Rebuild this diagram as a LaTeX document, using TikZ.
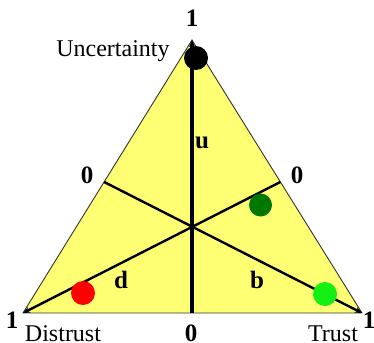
\documentclass[tikz,border=0pt]{standalone}
\usepackage{fontspec}
\setmainfont{Liberation Serif}
\usetikzlibrary{arrows.meta,calc,positioning}
\definecolor{opyellow}{RGB}{255,255,115}
\definecolor{opdkgreen}{RGB}{0,120,0}
\definecolor{oplgreen}{RGB}{20,240,20}
\tikzset{
  axis/.style={line width=2.4pt,-{Stealth[length=7pt,width=6pt]}},
  dot/.style={circle,inner sep=0pt,minimum size=24pt},
  lab/.style={font=\fontsize{24}{28}\selectfont},
  num/.style={font=\fontsize{25}{29}\selectfont\bfseries}
}
\begin{document}
\begin{tikzpicture}[x=1pt,y=-1pt]
  \useasboundingbox (0,0) rectangle (374,342);
  \coordinate (U) at (192,40);
  \coordinate (D) at (23,313);
  \coordinate (T) at (362,313);
  \coordinate (mL) at ($(U)!0.52!(D)$);
  \coordinate (mR) at ($(U)!0.52!(T)$);
  \coordinate (mB) at (192,313);
  \fill[opyellow] (U)--(D)--(T)--cycle;
  \draw[line width=0.9pt,black!80] (U)--(D)--(T)--cycle;
  % lines from each 0 to opposite vertex
  \draw[axis,line width=3.2pt] (mB)--(U);
  \draw[axis] (mR)--(D);
  \draw[axis] (mL)--(T);
  % opinions
  \node[dot,fill=black] (pU) at (196,58) {};
  \node[dot,fill=opdkgreen,minimum size=23pt] (pG) at (260.5,205) {};
  \node[dot,fill=red] (pD) at (83,293) {};
  \node[dot,fill=oplgreen] (pT) at (325,294) {};
  % labels
  \node[num] (oneU) at (192,18) {1};
  \node[num] (oneD) at (12,320) {1};
  \node[num] (oneT) at (369,320) {1};
  \node[num] (zeroL) at (87,175) {0};
  \node[num] (zeroR) at (297,175) {0};
  \node[num] (zeroB) at (191,333) {0};
  \node[num] (u) at (202,143) {u};
  \node[num] (d) at (121,280) {d};
  \node[num] (b) at (257,280) {b};
  \node[lab] (unc) at (113,51) {Uncertainty};
  \node[lab] (dis) at (63,334) {Distrust};
  \node[lab] (tru) at (333,334) {Trust};
\end{tikzpicture}
\end{document}
